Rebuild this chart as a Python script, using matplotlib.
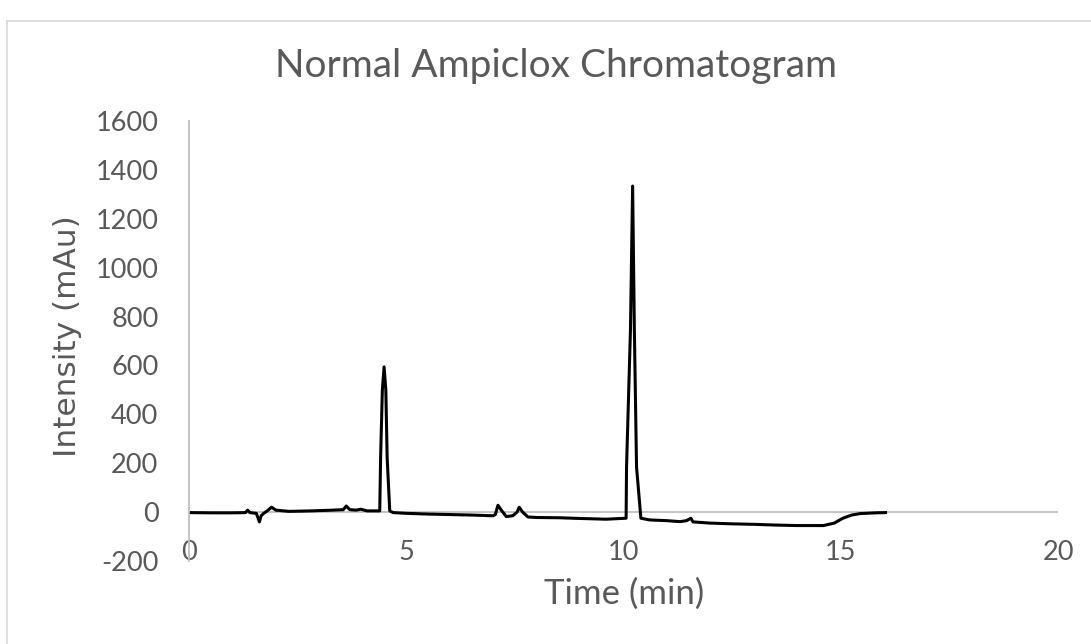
import matplotlib
matplotlib.use("Agg")
import matplotlib.pyplot as plt
from matplotlib.lines import Line2D

plt.rcParams["axes.unicode_minus"] = False

# ---- data ----
time_min = [0.0, 0.5, 1.0, 1.3, 1.35, 1.4, 1.55, 1.62, 1.66, 1.72, 1.80, 1.90, 2.0,
            2.3, 2.8, 3.3, 3.55, 3.62, 3.7, 3.85, 3.95, 4.1, 4.3, 4.39, 4.41, 4.45,
            4.49, 4.53, 4.56, 4.62, 4.7, 5.0, 5.5, 6.0, 6.5, 7.0, 7.05, 7.11, 7.18,
            7.3, 7.45, 7.55, 7.6, 7.68, 7.8, 8.0, 8.5, 9.0, 9.6, 10.06, 10.07, 10.16,
            10.21, 10.25, 10.30, 10.40, 10.6, 11.0, 11.3, 11.45, 11.55, 11.6, 12.0,
            12.5, 13.0, 13.5, 14.0, 14.6, 14.85, 15.05, 15.25, 15.45, 15.8, 16.03]
intensity = [-2, -3, -3, -2, 8, -2, -5, -40, -15, -5, 5, 20, 8,
             3, 5, 8, 10, 25, 10, 8, 12, 5, 5, 5, 225, 500,
             594, 500, 225, 5, -2, -5, -8, -10, -12, -15, -10, 28, 10,
             -18, -15, 0, 20, 0, -20, -22, -23, -26, -29, -25, 185, 745,
             1334, 745, 185, -25, -32, -35, -39, -35, -25, -40, -45,
             -48, -50, -53, -55, -55, -45, -25, -12, -6, -3, -2]

x_ticks = [0, 5, 10, 15, 20]
y_ticks = [-200, 0, 200, 400, 600, 800, 1000, 1200, 1400, 1600]

title = "Normal Ampiclox Chromatogram"
x_label = "Time (min)"
y_label = "Intensity (mAu)"

# ---- figure ----
W, H = 1091, 644
fig = plt.figure(figsize=(W / 100, H / 100), dpi=100)
fig.patch.set_facecolor("white")

grey_txt = "#595959"
grey_ax = "#bfbfbf"

# outer chart border
fig.add_artist(Line2D([7 / W, 1.0], [1 - 21 / H, 1 - 21 / H], color="#d9d9d9", lw=1.2,
                      transform=fig.transFigure))
fig.add_artist(Line2D([7 / W, 7 / W], [0, 1 - 21 / H], color="#d9d9d9", lw=1.2,
                      transform=fig.transFigure))

ax = fig.add_axes([189 / W, 1 - 561 / H, (1058 - 189) / W, (561 - 121) / H])
ax.plot(time_min, intensity, color="black", lw=2.2, solid_joinstyle="round")

ax.set_xlim(0, 20)
ax.set_ylim(-200, 1600)
ax.set_xticks(x_ticks)
ax.set_yticks(y_ticks)

for s in ["top", "right", "bottom"]:
    ax.spines[s].set_visible(False)
ax.spines["left"].set_color(grey_ax)
ax.spines["left"].set_linewidth(1.3)
ax.axhline(0, color=grey_ax, lw=1.3, zorder=0)

ax.tick_params(axis="both", length=0, colors=grey_txt, labelsize=19.5)
ax.tick_params(axis="y", pad=22)
ax.tick_params(axis="x", pad=-15)
for lab in ax.get_xticklabels() + ax.get_yticklabels():
    lab.set_family("Lato")

fig.text(556 / W, 1 - 66 / H, title, ha="center", va="center", fontsize=28,
         color=grey_txt, family="Lato")
fig.text(624 / W, 1 - 594 / H, x_label, ha="center", va="center", fontsize=25,
         color=grey_txt, family="Lato")
fig.text(68 / W, 1 - 336 / H, y_label, ha="center", va="center", fontsize=22.5,
         color=grey_txt, family="DejaVu Sans", rotation=90)

fig.savefig("out.png", dpi=100)
